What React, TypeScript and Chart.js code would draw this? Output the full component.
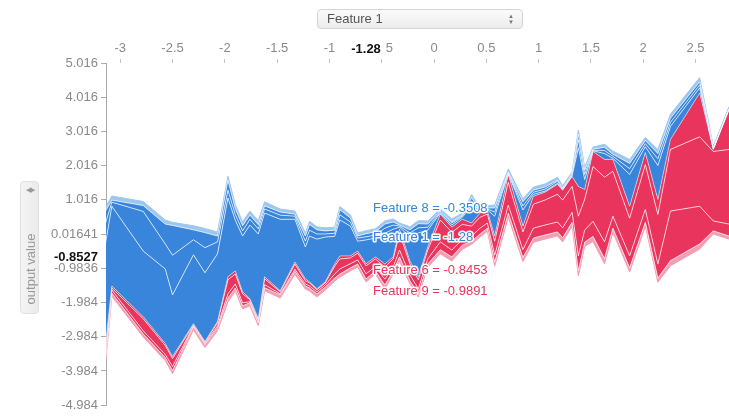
import React, { useEffect, useRef } from "react";
import { Chart, registerables } from "chart.js";

Chart.register(...registerables);

// Samples ordered by Feature 1 (x) with the model output and per-feature effects.
const featureValues = [
  -3.14, -3.08, -2.78, -2.57, -2.5, -2.3, -2.19, -2.07, -1.97, -1.9, -1.83, -1.76, -1.68, -1.62, -1.47, -1.33,
  -1.23, -1.19, -1.12, -1.04, -0.95, -0.9, -0.8, -0.73, -0.65, -0.56, -0.47, -0.39, -0.33, -0.23, -0.15, -0.06,
  0.06, 0.17, 0.27, 0.36, 0.44, 0.51, 0.58, 0.71, 0.85, 0.95, 1.06, 1.18, 1.23, 1.32, 1.38, 1.44,
  1.52, 1.63, 1.71, 1.87, 2.02, 2.14, 2.26, 2.54, 2.67, 2.82,
];

const outputValues = [
  -3.18, -1.5, -2.4, -3.18, -3.56, -2.6, -3.12, -2.54, -1.23, -1.06, -1.67, -1.87, -2.45, -1.23, -1.64, -0.8,
  -1.29, -1.38, -1.58, -1.38, -0.86, -0.62, -0.62, -0.48, -0.8527, -0.65, -0.86, -0.65, 0.16, -0.77, -1.23, -0.36,
  0.6, 0.22, 0.45, 0.34, 0.63, 0.69, -0.04, 1.76, 0.25, 1.12, 1.24, 1.47, 1.3, 1.7, 1.41, 1.32,
  2.43, 2.2, 2.2, 0.83, 2.4, 1.03, 2.78, 4.14, 2.49, 3.65,
];

// Effects pushing the output lower (stacked upward from the output, blue)
const negA = [
  2.94, 2.33, 1.92, 2.18, 1.8, 2.01, 2.01, 1.98, 2.3, 1.48, 1.63, 2.15, 2.47, 1.86, 2.09, 1.25,
  0.93, 1.34, 1.45, 1.31, 0.81, 1.05, 0.87, 0.29, 0.7, 0.55, 0.9, 0.81, 0.06, 0.7, 1.28, 0.49,
  0.03, 0.06, 0.06, 0.47, 0.02, 0.03, 0.58, 0.02, 0.47, 0.06, 0.03, 0.03, 0.02, 0.02, 1.13, 0.29,
  0.02, 0.17, 0.03, 0.93, 0.17, 0.99, 0.38, 0.15, 0.01, 0.01,
];
const negB = [
  0.58, 0.12, 1.16, 0.73, 1.16, 0.44, 0.73, 0.35, 0.23, 0.17, 0.15, 0.17, 0.15, 0.12, 0.12, 0.09,
  0.17, 0.17, 0.15, 0.09, 0.09, 0.15, 0.12, 0.09, 0.09, 0.09, 0.15, 0.12, 0.03, 0.12, 0.15, 0.09,
  0.03, 0.06, 0.03, 0.15, 0.02, 0.03, 0.12, 0.02, 0.12, 0.06, 0.06, 0.06, 0.02, 0.02, 0.23, 0.15,
  0.02, 0.09, 0.06, 0.17, 0.09, 0.2, 0.12, 0.09, 0.01, 0.01,
];
const negC = [
  0.35, 0.06, 0.17, 0.58, 0.87, 0.29, 0.44, 0.17, 0.29, 0.17, 0.15, 0.12, 0.12, 0.09, 0.09, 0.06,
  0.15, 0.17, 0.12, 0.09, 0.09, 0.15, 0.12, 0.06, 0.09, 0.09, 0.12, 0.09, 0.03, 0.09, 0.12, 0.09,
  0.03, 0.03, 0.03, 0.12, 0.03, 0.03, 0.12, 0.03, 0.12, 0.06, 0.06, 0.03, 0.03, 0.03, 0.17, 0.12,
  0.03, 0.09, 0.06, 0.15, 0.09, 0.15, 0.12, 0.09, 0.01, 0.01,
];
const negSmall = [
  0.12, 0.12, 0.12, 0.12, 0.09, 0.12, 0.12, 0.12, 0.12, 0.12, 0.12, 0.12, 0.12, 0.12, 0.09, 0.09,
  0.09, 0.09, 0.09, 0.09, 0.09, 0.09, 0.09, 0.09, 0.09, 0.09, 0.09, 0.09, 0.06, 0.09, 0.09, 0.09,
  0.06, 0.09, 0.06, 0.09, 0.06, 0.06, 0.09, 0.09, 0.09, 0.09, 0.09, 0.09, 0.06, 0.06, 0.12, 0.09,
  0.06, 0.09, 0.09, 0.12, 0.09, 0.12, 0.12, 0.12, 0.06, 0.06,
];

// Effects pushing the output higher (stacked downward from the output, red)
const posA = [
  0.12, 0.06, 0.06, 0.06, 0.06, 0.03, 0.03, 0.03, 0.09, 0.09, 0.06, 0.03, 0.03, 0.06, 0.03, 0.06,
  0.06, 0.03, 0.03, 0.03, 0.06, 0.09, 0.06, 0.06, 0.06, 0.06, 0.09, 0.06, 0.12, 0.09, 0.09, 0.09,
  0.17, 0.15, 0.15, 0.09, 0.12, 0.09, 0.15, 0.23, 0.17, 0.23, 0.23, 0.29, 0.29, 0.29, 0.87, 0.29,
  0.44, 0.52, 0.35, 0.35, 0.35, 0.44, 0.29, 1.28, 0.06, 1.16,
];
const posB = [
  0.17, 0.06, 0.35, 0.26, 0.23, 0.03, 0.03, 0.09, 0.41, 0.29, 0.26, 0.06, 0.06, 0.17, 0.06, 0.15,
  0.09, 0.09, 0.06, 0.06, 0.23, 0.29, 0.17, 0.2, 0.23, 0.23, 0.35, 0.23, 0.49, 0.32, 0.26, 0.26,
  0.64, 0.52, 0.44, 0.29, 0.32, 0.26, 0.41, 0.67, 0.52, 0.7, 0.73, 0.81, 0.81, 0.76, 1.16, 0.9,
  1.6, 1.89, 1.31, 1.1, 1.31, 1.45, 1.8, 2.03, 2.03, 2.18,
];
const posC = [
  0.17, 0.09, 0.09, 0.09, 0.12, 0.03, 0.03, 0.06, 0.12, 0.12, 0.09, 0.03, 0.03, 0.09, 0.03, 0.06,
  0.06, 0.06, 0.06, 0.06, 0.12, 0.15, 0.12, 0.12, 0.15, 0.12, 0.17, 0.12, 0.2, 0.17, 0.15, 0.15,
  0.23, 0.2, 0.17, 0.15, 0.17, 0.15, 0.2, 0.23, 0.23, 0.29, 0.29, 0.29, 0.29, 0.29, 0.44, 0.35,
  0.44, 0.49, 0.35, 0.35, 0.38, 0.41, 1.45, 1.1, 0.29, 0.35,
];
const posSmall = [
  0.12, 0.09, 0.09, 0.09, 0.09, 0.09, 0.09, 0.09, 0.12, 0.09, 0.09, 0.09, 0.09, 0.09, 0.09, 0.09,
  0.09, 0.09, 0.09, 0.09, 0.09, 0.09, 0.09, 0.09, 0.09, 0.09, 0.12, 0.09, 0.12, 0.09, 0.09, 0.09,
  0.12, 0.12, 0.12, 0.09, 0.09, 0.09, 0.12, 0.12, 0.12, 0.12, 0.12, 0.12, 0.12, 0.12, 0.15, 0.12,
  0.15, 0.15, 0.12, 0.12, 0.12, 0.12, 0.15, 0.15, 0.09, 0.09,
];

const xTicks = [-3, -2.5, -2, -1.5, -1, -0.5, 0, 0.5, 1, 1.5, 2, 2.5];
const yTicks = [5.01641, 4.01641, 3.01641, 2.01641, 1.01641, 0.01641, -0.98359, -1.98359, -2.98359, -3.98359, -4.98359];
const yTickLabels = ["5.016", "4.016", "3.016", "2.016", "1.016", "0.01641", "-0.9836", "-1.984", "-2.984", "-3.984", "-4.984"];

// Highlighted sample and the feature values shown beside it
const HOVER_INDEX = 24;
const HOVER_X_TEXT = "-1.28";
const hoverFeatures = ["Feature 8 = -0.3508", "Feature 1 = -1.28", "Feature 6 = -0.8453", "Feature 9 = -0.9891"];

const FONT = '"Liberation Sans", Arial, Helvetica, sans-serif';
const BLUE = "rgb(56,133,219)";
const BLUE_LIGHT = "rgb(158,199,239)";
const RED = "rgb(233,53,93)";
const PINK = "rgb(244,158,179)";
const SEAM = "rgba(255,255,255,0.7)";

function stack(base: number[], layers: number[][], sign: number): number[][] {
  const out: number[][] = [];
  let cur = base.slice();
  for (const layer of layers) {
    cur = cur.map((v, i) => v + sign * layer[i]);
    out.push(cur);
  }
  return out;
}

const hoverPlugin = {
  id: "hoverText",
  afterDraw(chart: any) {
    const { ctx } = chart;
    const xs = chart.scales.x;
    const ys = chart.scales.y;
    const hx = xs.getPixelForValue(featureValues[HOVER_INDEX]);
    const outVal = outputValues[HOVER_INDEX];
    const hy = ys.getPixelForValue(outVal);
    ctx.save();

    // x-axis value of the highlighted sample
    ctx.font = `bold 13px ${FONT}`;
    const w = ctx.measureText(HOVER_X_TEXT).width;
    ctx.fillStyle = "#ffffff";
    ctx.fillRect(hx - w / 2 - 3, 40, w + 8, 18);
    ctx.fillStyle = "#111";
    ctx.textAlign = "center";
    ctx.textBaseline = "bottom";
    ctx.fillText(HOVER_X_TEXT, hx, 56);

    // output value of the highlighted sample
    ctx.textAlign = "right";
    ctx.textBaseline = "middle";
    ctx.fillText(outVal.toFixed(4), ys.right - 8, hy - 6);

    // feature annotations
    ctx.font = `13px ${FONT}`;
    ctx.textAlign = "left";
    ctx.lineJoin = "round";
    const offsets = [-55, -26, 7, 28];
    const colors = [BLUE, BLUE, RED, RED];
    hoverFeatures.forEach((t, i) => {
      const ty = hy + offsets[i];
      ctx.strokeStyle = "rgba(255,255,255,0.95)";
      ctx.lineWidth = 3;
      ctx.strokeText(t, hx + 7, ty);
      ctx.fillStyle = colors[i];
      ctx.fillText(t, hx + 7, ty);
    });
    ctx.restore();
  },
};

export default function App() {
  const canvasRef = useRef<HTMLCanvasElement>(null);

  useEffect(() => {
    const pts = (vals: number[]) => vals.map((v, i) => ({ x: featureValues[i], y: v }));
    const up = stack(outputValues, [negA, negB, negC, negSmall], 1);
    const down = stack(outputValues, [posA, posB, posC, posSmall], -1);

    const datasets: any[] = [
      { data: pts(outputValues), borderColor: "rgba(255,255,255,0.5)", borderWidth: 1, fill: false },
      ...up.map((vals, k) => ({
        data: pts(vals),
        backgroundColor: k === 3 ? BLUE_LIGHT : BLUE,
        borderColor: k === 3 ? BLUE_LIGHT : SEAM,
        borderWidth: 1,
        fill: "-1",
      })),
      ...down.map((vals, k) => ({
        data: pts(vals),
        backgroundColor: k === 3 ? PINK : RED,
        borderColor: k === 3 ? PINK : SEAM,
        borderWidth: 1,
        fill: k === 0 ? 0 : "-1",
      })),
    ];

    const chart = new Chart(canvasRef.current as HTMLCanvasElement, {
      type: "line",
      data: { datasets },
      plugins: [hoverPlugin],
      options: {
        animation: false,
        responsive: false,
        events: [],
        layout: { padding: { top: 0, left: 0, right: 0, bottom: 9 } },
        plugins: { legend: { display: false }, tooltip: { enabled: false } },
        elements: { point: { radius: 0 }, line: { tension: 0 } },
        scales: {
          x: {
            type: "linear",
            position: "top",
            min: -3.136,
            max: 2.82,
            afterBuildTicks: (s: any) => {
              s.ticks = xTicks.map((v) => ({ value: v }));
            },
            afterFit: (s: any) => {
              s.height = 63;
            },
            grid: { drawOnChartArea: false, drawTicks: true, tickLength: 4, color: "#c4c4c4" },
            border: { display: false },
            ticks: {
              color: "#8a8a8a",
              font: { family: FONT, size: 13 },
              padding: 3,
              maxRotation: 0,
              autoSkip: false,
              callback: (v: any) => String(v),
            },
          },
          y: {
            type: "linear",
            min: -4.98359,
            max: 5.01641,
            afterBuildTicks: (s: any) => {
              s.ticks = yTicks.map((v) => ({ value: v }));
            },
            afterFit: (s: any) => {
              s.width = 106;
            },
            grid: { drawOnChartArea: false, drawTicks: true, tickLength: 5, color: "#aaaaaa" },
            border: { display: true, color: "#aaaaaa" },
            ticks: {
              color: "#8a8a8a",
              font: { family: FONT, size: 13 },
              padding: 3,
              autoSkip: false,
              callback: (_v: any, i: number) => yTickLabels[i],
            },
          },
        },
      } as any,
    });
    return () => chart.destroy();
  }, []);

  return (
    <div style={{ position: "fixed", left: 0, top: 0, width: 729, height: 416, background: "#fff", fontFamily: FONT }}>
      <canvas ref={canvasRef} width={729} height={416} style={{ position: "absolute", left: 0, top: 0 }} />
      <div
        style={{
          position: "absolute",
          left: 317,
          top: 9,
          width: 195,
          height: 18,
          border: "1px solid #d4d4d4",
          borderRadius: 4,
          background: "linear-gradient(#fbfbfb, #ececec)",
          fontSize: 13,
          color: "#555",
          lineHeight: "18px",
          paddingLeft: 9,
          boxSizing: "content-box",
        }}
      >
        Feature 1
        <div style={{ position: "absolute", right: 8, top: 3, fontSize: 6, lineHeight: "6px", color: "#777" }}>
          <div>▲</div>
          <div>▼</div>
        </div>
      </div>
      <div
        style={{
          position: "absolute",
          left: 20,
          top: 181,
          width: 17,
          height: 131,
          border: "1px solid #e0e0e0",
          borderRadius: 4,
          background: "linear-gradient(90deg, #f4f4f4, #ebebeb)",
        }}
      >
        <div style={{ position: "absolute", left: 0, width: 17, top: 4, textAlign: "center", fontSize: 7, color: "#999", letterSpacing: -1 }}>
          ◀▶
        </div>
        <div
          style={{
            position: "absolute",
            left: 9,
            top: 87,
            transform: "translate(-50%, -50%) rotate(-90deg)",
            whiteSpace: "nowrap",
            fontSize: 13,
            color: "#999",
          }}
        >
          output value
        </div>
      </div>
    </div>
  );
}
